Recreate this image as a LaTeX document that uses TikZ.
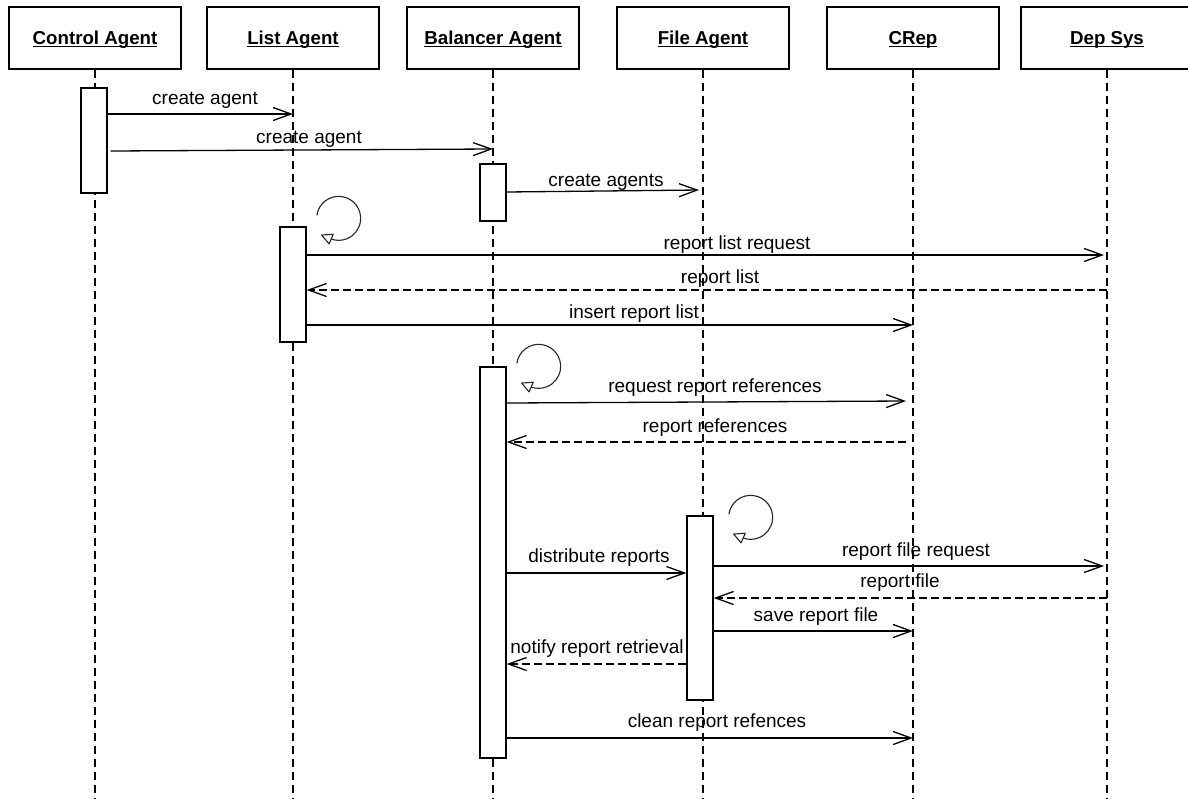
\documentclass[tikz,border=0pt]{standalone}
\usepackage{fontspec}
\setmainfont{Liberation Sans}
\usetikzlibrary{arrows.meta}
% underlined header text with the rule sitting just under the baseline
\newcommand\ulname[1]{\setbox0\hbox{#1}\rlap{\rule[-2.4pt]{\wd0}{1.5pt}}\box0}
\begin{document}
\begin{tikzpicture}[x=1pt,y=1pt,
  head/.style={draw, line width=1.4pt, minimum width=172pt, minimum height=62pt,
    inner sep=0pt, font=\fontsize{18.7}{22}\selectfont\bfseries,
    text height=13.4pt, text depth=0pt},
  life/.style={line width=1.3pt, dash pattern=on 8pt off 5pt},
  act/.style={draw, fill=white, line width=1.3pt, minimum width=26pt, inner sep=0pt},
  msg/.style={line width=1.3pt, -{Straight Barb[length=18pt,width=13pt]}},
  reply/.style={msg, dash pattern=on 8pt off 4pt},
  lbl/.style={font=\fontsize{19}{22}\selectfont, anchor=base, inner sep=0pt},
  loopline/.style={line width=1.1pt, black!85},
  looptip/.style={line width=1.1pt, black!85, fill=white, line join=round}
]
\useasboundingbox (0,0) rectangle (1188,-798);
\fill[white] (0,0) rectangle (1188,-798);

% participants
\node[head] (ca) at (95,-38)   {\ulname{Control Agent}};
\node[head] (la) at (293,-38)  {\ulname{List Agent}};
\node[head] (ba) at (493,-38)  {\ulname{Balancer Agent}};
\node[head] (fa) at (703,-38)  {\ulname{File Agent}};
\node[head] (cr) at (913,-38)  {\ulname{CRep}};
\node[head] (ds) at (1107,-38) {\ulname{Dep Sys}};

% lifelines
\coordinate (bottom) at (0,-800);
\foreach \p in {ca,la,ba,fa,cr,ds}
  \draw[life] (\p.south) -- (\p |- bottom);

% activation bars
\node[act, minimum height=105pt] (a1) at (94,-140.5) {};
\node[act, minimum height=57pt]  (b1) at (493,-192.5) {};
\node[act, minimum height=115pt] (l1) at (293,-284.5) {};
\node[act, minimum height=391pt] (b2) at (493,-562.5) {};
\node[act, minimum height=184pt] (f1) at (700,-608) {};

% self calls: a clockwise circle ending in an open triangle
\coordinate (lc) at ([shift={(32,8)}]l1.north east);
\coordinate (bc) at ([shift={(32,0)}]b2.north east);
\coordinate (fc) at ([shift={(37,-2)}]f1.north east);
\foreach \c in {lc,bc,fc}{
  \draw[loopline] (\c) ++(172:22) arc[start angle=172, end angle=-110, radius=22];
  \draw[looptip] (\c) ++(-17.0,-16.7) -- ++(11.6,0.8) -- ++(-4.2,-9.6) -- cycle;
}

% creation messages
\draw[msg] (a1.east |- 0,-114) -- (la |- 0,-114);
\node[lbl] at (205,-104) {create agent};
\draw[msg] ([xshift=3pt]a1.east |- 0,-151) -- (ba |- 0,-149);
\node[lbl] at (309,-143) {create agent};
\draw[msg] (b1.east |- 0,-192) -- ([xshift=-4pt]fa |- 0,-190);
\node[lbl] at (606,-186) {create agents};

% list agent
\draw[msg] (l1.east |- 0,-255) -- ([xshift=-3pt]ds |- 0,-255);
\node[lbl] at (737,-249) {report list request};
\draw[reply] (ds |- 0,-290) -- (l1.east |- 0,-290);
\node[lbl] at (720,-283) {report list};
\draw[msg] (l1.east |- 0,-325) -- (cr |- 0,-325);
\node[lbl] at (634,-318) {insert report list};

% balancer agent
\draw[msg] (b2.east |- 0,-403) -- ([xshift=-7pt]cr |- 0,-401);
\node[lbl] at (715,-392) {request report references};
\draw[reply] ([xshift=-7pt]cr |- 0,-442) -- (b2.east |- 0,-442);
\node[lbl] at (715,-432) {report references};

% file agent
\draw[msg] (b2.east |- 0,-573) -- (f1.west |- 0,-573);
\node[lbl] at (599,-562) {distribute reports};
\draw[msg] (f1.east |- 0,-566) -- ([xshift=-3pt]ds |- 0,-566);
\node[lbl] at (916,-556) {report file request};
\draw[reply] (ds |- 0,-598) -- (f1.east |- 0,-598);
\node[lbl] at (900,-587) {report file};
\draw[msg] (f1.east |- 0,-631) -- (cr |- 0,-631);
\node[lbl] at (816,-621) {save report file};
\draw[reply] (f1.west |- 0,-664) -- (b2.east |- 0,-664);
\node[lbl] at (597,-653) {notify report retrieval};
\draw[msg] (b2.east |- 0,-738) -- (cr |- 0,-738);
\node[lbl] at (717,-727) {clean report refences};
\end{tikzpicture}
\end{document}
